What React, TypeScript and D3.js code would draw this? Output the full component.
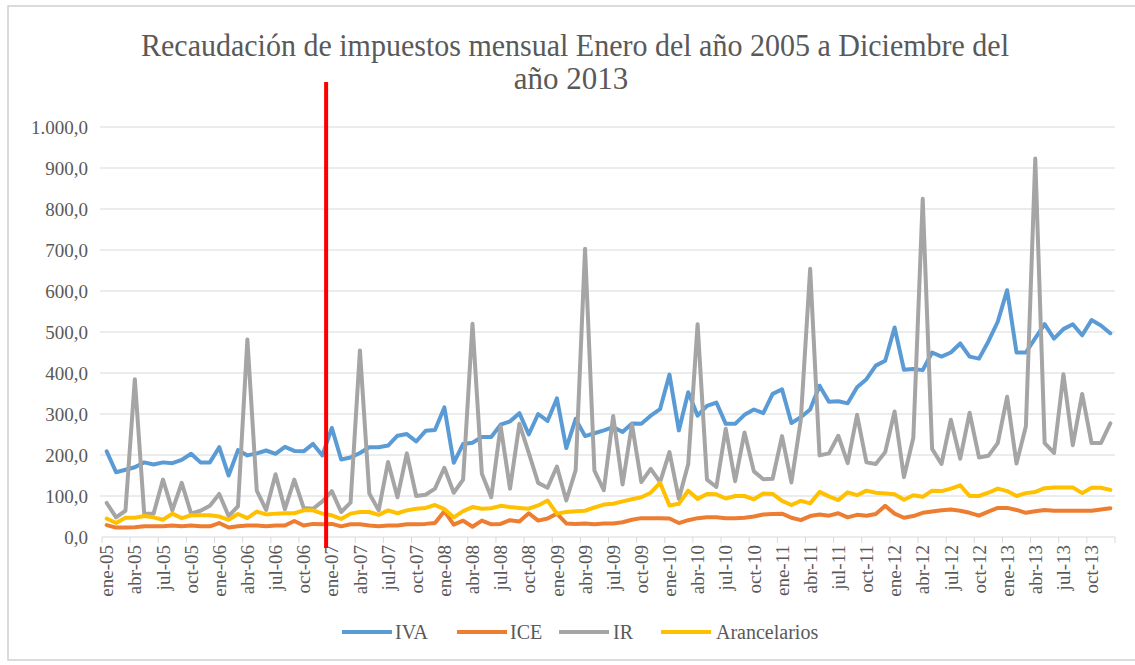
import React from "react";
import * as d3 from "d3";

const MONTHS = ["ene", "feb", "mar", "abr", "may", "jun", "jul", "ago", "sep", "oct", "nov", "dic"];
const YEARS = ["05", "06", "07", "08", "09", "10", "11", "12", "13"];
const CATEGORIES: string[] = YEARS.flatMap((y) => MONTHS.map((m) => `${m}-${y}`));

const IVA = [
  209, 158, 164, 170, 182, 177, 182, 180, 188, 203, 182, 182,
  219, 150, 212, 199, 204, 211, 203, 220, 210, 209, 227, 199,
  266, 189, 194, 205, 219, 219, 223, 247, 251, 233, 259, 261,
  316, 181, 227, 230, 244, 244, 274, 282, 302, 250, 300, 283,
  338, 217, 288, 246, 253, 260, 268, 256, 277, 276, 296, 312,
  396, 260, 353, 296, 320, 328, 276, 276, 298, 311, 302, 349,
  360, 278, 292, 311, 369, 330, 331, 326, 365, 385, 418, 430,
  511, 408, 410, 407, 450, 440, 450, 472, 440, 435, 477, 525,
  602, 450, 450, 485, 519, 484, 507, 519, 492, 529, 516, 497,
];
const ICE = [
  29, 23, 23, 24, 26, 26, 26, 28, 26, 28, 26, 26,
  34, 23, 26, 28, 28, 26, 28, 28, 39, 28, 32, 31,
  32, 26, 31, 31, 28, 26, 28, 28, 31, 31, 32, 34,
  63, 30, 40, 25, 40, 31, 32, 41, 38, 58, 40, 45,
  57, 33, 32, 33, 31, 33, 33, 36, 42, 46, 46, 46,
  45, 34, 41, 46, 48, 48, 46, 46, 47, 50, 55, 56,
  57, 47, 41, 51, 55, 52, 58, 48, 54, 52, 56, 76,
  57, 47, 51, 59, 62, 65, 67, 64, 59, 52, 62, 71,
  71, 66, 59, 63, 66, 64, 64, 64, 64, 64, 67, 70,
];
const IR = [
  83, 48, 64, 385, 57, 57, 140, 65, 132, 57, 64, 76,
  105, 51, 75, 482, 113, 66, 153, 68, 140, 71, 69, 87,
  112, 61, 84, 455, 106, 65, 183, 97, 204, 100, 103, 118,
  169, 108, 140, 520, 154, 97, 270, 118, 276, 205, 132, 120,
  172, 89, 163, 703, 162, 114, 295, 128, 275, 134, 166, 134,
  207, 93, 178, 519, 140, 122, 264, 136, 255, 160, 141, 142,
  246, 133, 285, 654, 199, 204, 247, 180, 298, 182, 178, 207,
  306, 146, 242, 825, 215, 178, 286, 191, 303, 194, 198, 229,
  342, 179, 270, 923, 229, 205, 397, 224, 349, 229, 229, 277,
];
const ARANCELARIOS = [
  45, 34, 47, 47, 51, 48, 42, 57, 46, 53, 53, 53,
  50, 42, 56, 46, 62, 55, 57, 58, 58, 65, 65, 57,
  53, 44, 57, 61, 61, 54, 65, 58, 65, 69, 71, 78,
  68, 48, 63, 73, 69, 70, 76, 73, 71, 69, 77, 89,
  57, 61, 63, 64, 72, 79, 81, 87, 92, 97, 108, 132,
  77, 81, 113, 93, 105, 104, 94, 100, 100, 92, 106, 105,
  88, 78, 88, 82, 110, 99, 90, 109, 102, 113, 108, 106,
  104, 91, 102, 98, 113, 112, 118, 126, 100, 100, 108, 118,
  112, 100, 107, 110, 119, 121, 121, 121, 107, 120, 120, 115,
];

const SERIES_NAMES = ["IVA", "ICE", "IR", "Arancelarios"];
const SERIES_VALUES = [IVA, ICE, IR, ARANCELARIOS];
const SERIES_COLORS = ["#5B9BD5", "#ED7D31", "#A5A5A5", "#FFC000"];
const Y_TICKS = [0, 100, 200, 300, 400, 500, 600, 700, 800, 900, 1000];
const MARKER_CATEGORY = "ene-07";
const TITLE_LINES = ["Recaudación de impuestos mensual Enero del año 2005  a Diciembre del", "año 2013"];

const FONT = "'Liberation Serif', 'Times New Roman', serif";
const TEXT = "#595959";

export default function App() {
  const W = 1135, H = 665;
  const left = 102, right = 1115, top = 127, bottom = 537;

  const x = d3.scaleBand<string>().domain(CATEGORIES).range([left, right]).paddingInner(0).paddingOuter(0);
  const y = d3.scaleLinear().domain([0, 1000]).range([bottom, top]);
  const cx = (c: string) => (x(c) as number) + x.bandwidth() / 2;

  const fmt = (v: number) => {
    const s = v.toFixed(1).replace(".", ",");
    const [int, dec] = s.split(",");
    return int.replace(/\B(?=(\d{3})+(?!\d))/g, ".") + "," + dec;
  };

  const line = d3.line<number>()
    .x((_, i) => cx(CATEGORIES[i]))
    .y((d) => y(d));

  const tickCats = CATEGORIES.filter((_, i) => i % 3 === 0);
  const markerX = x(MARKER_CATEGORY) as number;

  const legendItems = [
    { lx: 342, tx: 395 },
    { lx: 457, tx: 510 },
    { lx: 559, tx: 613 },
    { lx: 661, tx: 716 },
  ];

  return (
    <svg width={W} height={H} style={{ position: "absolute", left: 0, top: 0, background: "#fff" }}>
      <rect x={8} y={6} width={1140} height={654} fill="#fff" stroke="#D0D0D0" strokeWidth={1.5} />
      {/* title */}
      <text x={575} y={56} textAnchor="middle" fontFamily={FONT} fontSize={31} fill={TEXT}
        textLength={868} lengthAdjust="spacingAndGlyphs">{TITLE_LINES[0]}</text>
      <text x={571} y={89} textAnchor="middle" fontFamily={FONT} fontSize={31} fill={TEXT}>{TITLE_LINES[1]}</text>

      {/* gridlines and y labels */}
      {Y_TICKS.map((t) => (
        <g key={t}>
          {t > 0 && <line x1={left - 2} x2={right} y1={y(t)} y2={y(t)} stroke="#D9D9D9" strokeWidth={1} />}
          <text x={88} y={y(t)} dy="0.35em" textAnchor="end" fontFamily={FONT} fontSize={19} fill={TEXT}>{fmt(t)}</text>
        </g>
      ))}

      {/* x axis */}
      <line x1={left} x2={right} y1={bottom} y2={bottom} stroke="#D9D9D9" strokeWidth={1} />
      {tickCats.map((c) => (
        <line key={"t" + c} x1={x(c)} x2={x(c)} y1={bottom} y2={bottom + 6} stroke="#D9D9D9" strokeWidth={1} />
      ))}
      <line x1={right} x2={right} y1={bottom} y2={bottom + 6} stroke="#D9D9D9" strokeWidth={1} />
      {tickCats.map((c) => (
        <text key={"l" + c} transform={`translate(${cx(c)},${bottom + 8}) rotate(-90)`} dy="0.35em"
          textAnchor="end" fontFamily={FONT} fontSize={19} fill={TEXT}>{c}</text>
      ))}

      {/* series */}
      {SERIES_VALUES.map((vals, si) => (
        <path key={SERIES_NAMES[si]} d={line(vals) || ""} fill="none" stroke={SERIES_COLORS[si]}
          strokeWidth={4} strokeLinejoin="round" strokeLinecap="round" />
      ))}

      {/* red marker line */}
      <line x1={markerX - 1} x2={markerX - 1} y1={82} y2={548} stroke="#FF0000" strokeWidth={4} />

      {/* legend */}
      {SERIES_NAMES.map((n, i) => (
        <g key={"lg" + n}>
          <line x1={legendItems[i].lx} x2={legendItems[i].lx + 50} y1={632} y2={632}
            stroke={SERIES_COLORS[i]} strokeWidth={4} />
          <text x={legendItems[i].tx} y={632} dy="0.35em" fontFamily={FONT} fontSize={20} fill={TEXT}>{n}</text>
        </g>
      ))}
    </svg>
  );
}
